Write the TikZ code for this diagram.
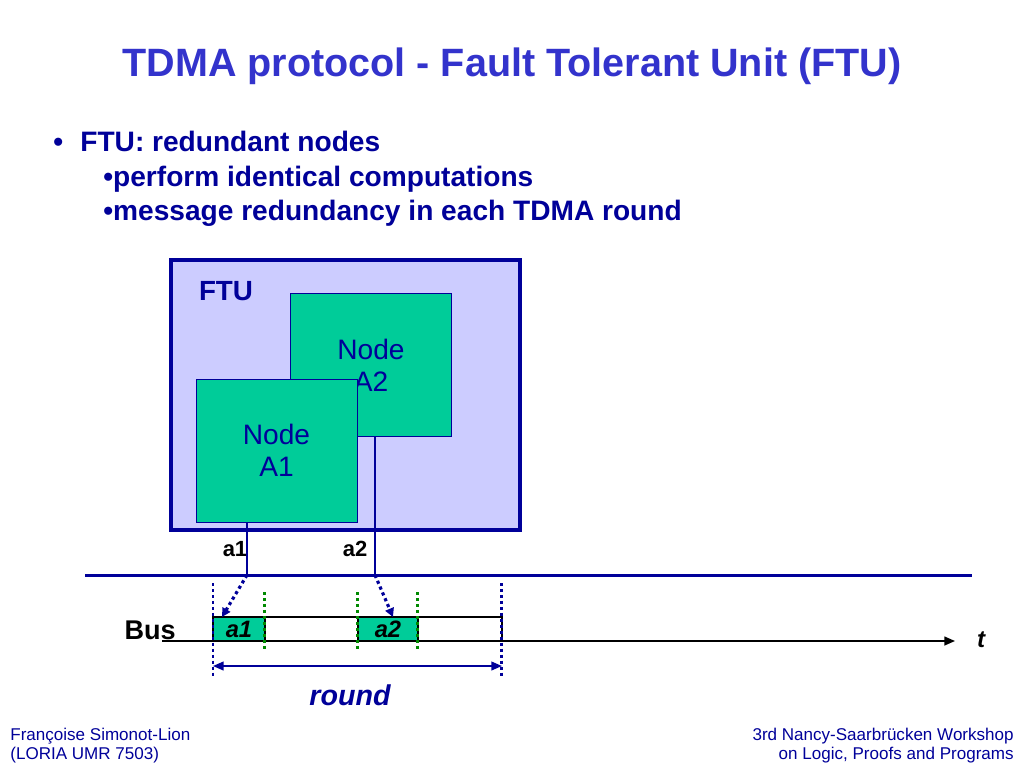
\documentclass[tikz,border=0pt]{standalone}
\usepackage{fontspec}
\setmainfont{Liberation Sans}
\usetikzlibrary{arrows.meta,positioning,calc}
\definecolor{titlec}{HTML}{3333CC}
\definecolor{navyc}{HTML}{000099}
\definecolor{ftufill}{HTML}{CCCCFF}
\definecolor{unitfill}{HTML}{00CC99}
\definecolor{slotdot}{HTML}{008A00}
\tikzset{
  title/.style={font=\fontsize{22.5}{26}\selectfont\bfseries, text=titlec, inner sep=0pt},
  bullettext/.style={font=\fontsize{16}{19}\selectfont\bfseries, text=navyc, anchor=base west, inner sep=0pt},
  ftubox/.style={draw=navyc, line width=2.3pt, fill=ftufill},
  ftulabel/.style={font=\fontsize{15.8}{18}\selectfont\bfseries, text=navyc, inner sep=0pt},
  unit/.style={draw=navyc, line width=0.5pt, fill=unitfill, minimum width=3.22cm, minimum height=2.86cm,
               align=center, font=\fontsize{16}{18.2}\selectfont, text=navyc, inner sep=0pt},
  portlabel/.style={font=\fontsize{12.5}{14}\selectfont\bfseries, anchor=base, inner sep=0pt},
  link/.style={draw=navyc, line width=0.6pt},
  send/.style={draw=navyc, line width=1.8pt, dash pattern=on 1.8pt off 1.8pt,
               -{Triangle[length=5pt,width=5pt]}},
  busline/.style={draw=navyc, line width=1.7pt},
  slot/.style={draw=black, line width=1.1pt, minimum height=0.48cm, inner sep=0pt, outer sep=0pt,
               font=\fontsize{13.5}{15}\selectfont\bfseries\itshape},
  msg/.style={slot, fill=unitfill, minimum width=#1},
  idle/.style={slot, fill=white, minimum width=#1},
  axis/.style={draw=black, line width=0.9pt, -{Triangle[length=6pt,width=5pt]}},
  axislabel/.style={font=\fontsize{15.4}{18}\selectfont\bfseries, inner sep=0pt},
  frame/.style={draw=navyc, line width=1.7pt, dash pattern=on 1.7pt off 1.7pt},
  slotmark/.style={draw=slotdot, line width=1.7pt, dash pattern=on 1.7pt off 1.7pt},
  span/.style={draw=navyc, line width=0.8pt, {Triangle[length=6pt,width=5pt]}-{Triangle[length=6pt,width=5pt]}},
  spanlabel/.style={font=\fontsize{16.3}{19}\selectfont\bfseries\itshape, text=navyc, inner sep=0pt},
  footer/.style={font=\fontsize{9.7}{10.8}\selectfont, text=navyc, inner sep=0pt},
}
\def\yLink{575}
\def\ySlot{629}
\def\yFrameA{583}
\def\yFrameB{677}
\def\yMarkA{592}
\def\yMarkB{650}
\def\yRound{666}
\begin{document}
\begin{tikzpicture}[x=0.02cm,y=-0.02cm]
  \useasboundingbox (0,0) rectangle (1024,768);
  % title and bullets
  \node[title, anchor=base] (head) at (512,76) {TDMA protocol - Fault Tolerant Unit (FTU)};
  \node[bullettext] (dot) at (53,151) {•};
  \node[bullettext] (b1) at (80,151) {FTU: redundant nodes};
  \node[bullettext] (b2) at (103,186) {•perform identical computations};
  \node[bullettext] (b3) at (103,220) {•message redundancy in each TDMA round};
  % fault tolerant unit
  \draw[ftubox] (171,260) rectangle (520,530);
  \node[ftulabel] (ftu) at (226,291) {FTU};
  \node[unit] (A2) at (371,365) {Node\\A2};
  \node[unit] (A1) at (276.5,450.5) {Node\\A1};
  \node[portlabel] (p1) at (235,556) {a1};
  \node[portlabel] (p2) at (355,556) {a2};
  \coordinate (j1) at (247,\yLink);
  \coordinate (j2) at (375,\yLink);
  \draw[busline] (85,\yLink) -- (972,\yLink);
  \draw[link] (A1.south -| j1) -- (j1);
  \draw[link] (A2.south -| j2) -- (j2);
  % TDMA round on the bus
  \node[msg=1.04cm, anchor=west] (s1) at (213,\ySlot) {a1};
  \node[idle=1.86cm, right=0pt of s1] (g1) {};
  \node[msg=1.2cm, right=0pt of g1] (s2) {a2};
  \node[idle=1.68cm, right=0pt of s2] (g2) {};
  \draw[send] (j1) -- ([xshift=-0.34cm]s1.north);
  \draw[send] (j2) -- ([xshift=0.1cm]s2.north);
  \node[axislabel, anchor=base east] (bus) at (176,639) {Bus};
  \coordinate (t0) at (162,641);
  \coordinate (t1) at (955,641);
  \draw[axis] (t0) -- (t1);
  \node[axislabel, font=\fontsize{13.7}{16}\selectfont\bfseries\itshape, anchor=base] (t) at (981,647) {t};
  \draw[frame] (s1.west |- 0,\yFrameA) -- (s1.west |- 0,\yFrameB);
  \draw[frame] (g2.east |- 0,\yFrameA) -- (g2.east |- 0,\yFrameB);
  \draw[slotmark] (s1.east |- 0,\yMarkA) -- (s1.east |- 0,\yMarkB);
  \draw[slotmark] (s2.west |- 0,\yMarkA) -- (s2.west |- 0,\yMarkB);
  \draw[slotmark] (s2.east |- 0,\yMarkA) -- (s2.east |- 0,\yMarkB);
  \coordinate (r0) at (s1.west |- 0,\yRound);
  \coordinate (r1) at (g2.east |- 0,\yRound);
  \draw[span] (r0) -- (r1);
  \node[spanlabel] (round) at (350,695) {round};
  % footer
  \node[footer, anchor=base west] (f1) at (10,740) {Françoise Simonot-Lion};
  \node[footer, anchor=base west] (f2) at (10,759) {(LORIA UMR 7503)};
  \node[footer, anchor=base east] (f3) at (1014,740) {3rd Nancy-Saarbrücken Workshop};
  \node[footer, anchor=base east] (f4) at (1014,759) {on Logic, Proofs and Programs};
\end{tikzpicture}
\end{document}
